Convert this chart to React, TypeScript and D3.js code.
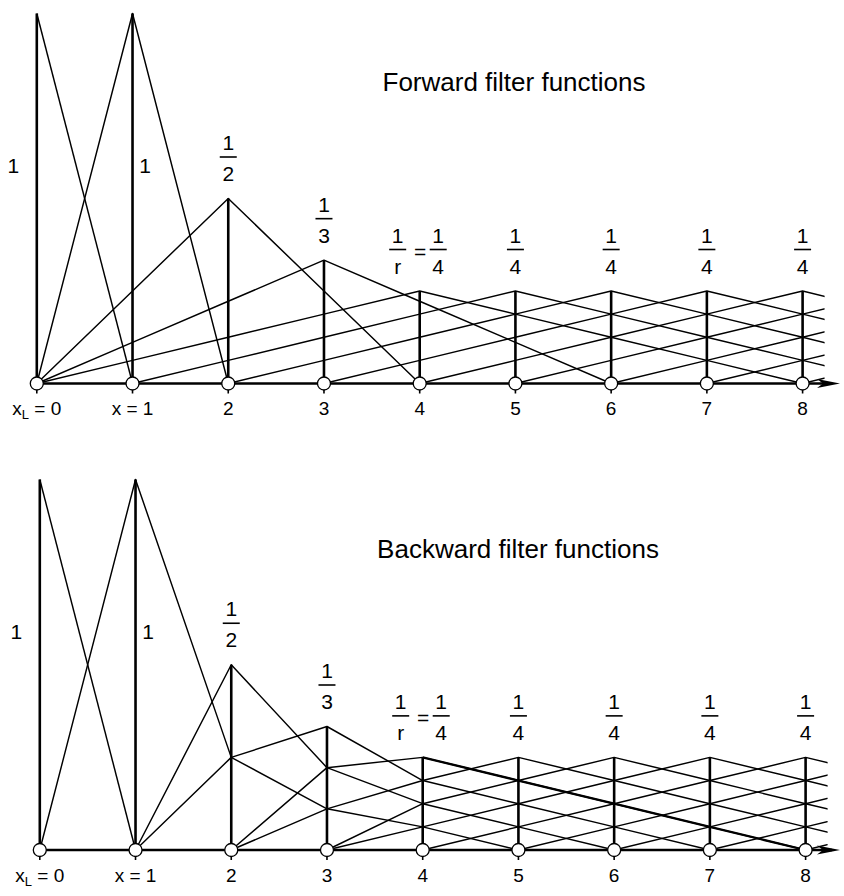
import React from "react";
import * as d3 from "d3";

// Node indices along the axis (0 = left boundary x_L); nodes beyond 8 only feed the clipped right edge
const nodes = [0, 1, 2, 3, 4, 5, 6, 7, 8, 9, 10, 11, 12, 13, 14, 15, 16];
// Half-width of each node's hat filter: grows from the boundary until it reaches r = 4
const filterWidth = [1, 1, 2, 3, 4, 4, 4, 4, 4, 4, 4, 4, 4, 4, 4, 4, 4];
// Filter functions drawn (one per node)
const functionIds = [0, 1, 2, 3, 4, 5, 6, 7, 8, 9, 10, 11, 12];
// Labelled nodes and the peak labels shown above them
const shownNodes = [0, 1, 2, 3, 4, 5, 6, 7, 8];
const peakNumer = ["1", "1", "1", "1", "1", "1", "1", "1", "1"];
const peakDenom = ["", "", "2", "3", "4", "4", "4", "4", "4"];
const axisLabels = ["0", "1", "2", "3", "4", "5", "6", "7", "8"];
const X_MAX = 8.23; // right end of the drawn functions

const FONT = "'Liberation Sans', Arial, Helvetica, sans-serif";

// Forward filter function of node j, evaluated at node i (symmetric hat, area 1)
function forward(j: number, i: number): number {
  const w = filterWidth[j];
  return Math.max(0, 1 - Math.abs(i - j) / w) / w;
}
// Backward filter functions are the transposed weights
function backward(j: number, i: number): number {
  return forward(i, j);
}

function supportPoints(f: (j: number, i: number) => number, j: number) {
  const vals = nodes.map((i) => f(j, i));
  const idx = nodes.filter((i) => vals[i] > 1e-12);
  if (!idx.length) return [];
  const lo = Math.max(0, idx[0] - 1);
  const hi = Math.min(nodes.length - 1, idx[idx.length - 1] + 1);
  return nodes.filter((i) => i >= lo && i <= hi).map((i) => [i, vals[i]] as [number, number]);
}

function Fraction({ cx, barY, num, den }: { cx: number; barY: number; num: string; den: string }) {
  return (
    <g fontFamily={FONT} fontSize={21} textAnchor="middle" fill="#000">
      <text x={cx} y={barY - 7}>{num}</text>
      <line x1={cx - 8.5} x2={cx + 8.5} y1={barY} y2={barY} stroke="#000" strokeWidth={1.6} />
      <text x={cx} y={barY + 24}>{den}</text>
    </g>
  );
}

function Panel({
  id,
  x0,
  base,
  top,
  fn,
  title,
  titleX,
  titleY,
  emphasis,
}: {
  id: string;
  x0: number;
  base: number;
  top: number;
  fn: (j: number, i: number) => number;
  title: string;
  titleX: number;
  titleY: number;
  emphasis: number;
}) {
  const x = d3.scaleLinear().domain([0, 8]).range([x0, x0 + 765.8]);
  const y = d3.scaleLinear().domain([0, 1]).range([base, top]);
  const line = d3
    .line<[number, number]>()
    .x((d) => x(d[0]))
    .y((d) => y(d[1]));
  const peak = (j: number) => fn(j, j);
  const tip = 840;

  return (
    <g>
      <defs>
        <clipPath id={`clip-${id}`}>
          <rect x={0} y={0} width={x(X_MAX)} height={900} />
        </clipPath>
      </defs>

      {/* filter functions */}
      <g clipPath={`url(#clip-${id})`} fill="none" stroke="#000" strokeLinejoin="round">
        {functionIds.map((j) => (
          <path key={j} d={line(supportPoints(fn, j)) || ""} strokeWidth={1.45} />
        ))}
        {/* emphasised tail of one function, from its own node onwards */}
        {emphasis >= 0 && (
          <path
            d={line(supportPoints(fn, emphasis).filter((p) => p[0] >= emphasis)) || ""}
            strokeWidth={2.3}
          />
        )}
      </g>

      {/* node verticals up to each peak */}
      {shownNodes.map((j) => (
        <line
          key={`v${j}`}
          x1={x(j)}
          x2={x(j)}
          y1={y(0)}
          y2={y(peak(j))}
          stroke="#000"
          strokeWidth={2.6}
        />
      ))}

      {/* axis with arrow */}
      <line x1={x(0)} x2={tip - 8} y1={y(0)} y2={y(0)} stroke="#000" strokeWidth={2.6} />
      <path
        d={`M${tip},${y(0)} L${tip - 23},${y(0) - 4.5} L${tip - 17},${y(0)} L${tip - 23},${y(0) + 4.5} Z`}
        fill="#000"
      />
      {shownNodes.map((j) => (
        <line key={`t${j}`} x1={x(j)} x2={x(j)} y1={y(0)} y2={y(0) + 10} stroke="#000" strokeWidth={1.6} />
      ))}
      {shownNodes.map((j) => (
        <circle key={`c${j}`} cx={x(j)} cy={y(0)} r={6.5} fill="#fff" stroke="#000" strokeWidth={1.3} />
      ))}

      {/* peak labels */}
      <g fontFamily={FONT} fontSize={21} textAnchor="middle" fill="#000">
        <text x={x(0) - 23.5} y={y(0.57)}>{peakNumer[0]}</text>
        <text x={x(1) + 12.5} y={y(0.57)}>{peakNumer[1]}</text>
      </g>
      {shownNodes
        .filter((j) => j >= 2 && j !== 4)
        .map((j) => (
          <Fraction key={`f${j}`} cx={x(j)} barY={y(peak(j)) - 41.5} num={peakNumer[j]} den={peakDenom[j]} />
        ))}
      <Fraction cx={x(4) - 22} barY={y(peak(4)) - 41.5} num="1" den="r" />
      <text
        x={x(4) + 0.5}
        y={y(peak(4)) - 32}
        fontFamily={FONT}
        fontSize={21}
        textAnchor="middle"
      >
        =
      </text>
      <Fraction cx={x(4) + 18.5} barY={y(peak(4)) - 41.5} num={peakNumer[4]} den={peakDenom[4]} />

      {/* axis labels */}
      <g fontFamily={FONT} fontSize={19} textAnchor="middle" fill="#000">
        {shownNodes.map((j) => {
          if (j === 0)
            return (
              <text key={j} x={x(0)} y={y(0) + 31.5}>
                x<tspan fontSize={13} dy={4}>L</tspan>
                <tspan dy={-4}> = {axisLabels[0]}</tspan>
              </text>
            );
          if (j === 1)
            return (
              <text key={j} x={x(1)} y={y(0) + 31.5}>
                x = {axisLabels[1]}
              </text>
            );
          return (
            <text key={j} x={x(j)} y={y(0) + 31.5}>
              {axisLabels[j]}
            </text>
          );
        })}
      </g>

      <text x={titleX} y={titleY} fontFamily={FONT} fontSize={26} textAnchor="middle">
        {title}
      </text>
    </g>
  );
}

export default function App() {
  return (
    <svg
      width={844}
      height={896}
      viewBox="0 0 844 896"
      style={{ position: "absolute", left: 0, top: 0, background: "#fff" }}
    >
      <rect width={844} height={896} fill="#fff" />
      <Panel
        id="fwd"
        x0={36.8}
        base={383.5}
        top={13.5}
        fn={forward}
        title="Forward filter functions"
        titleX={514}
        titleY={91}
        emphasis={-1}
      />
      <Panel
        id="bwd"
        x0={39.8}
        base={850}
        top={479.5}
        fn={backward}
        title="Backward filter functions"
        titleX={518}
        titleY={557.5}
        emphasis={4}
      />
    </svg>
  );
}
